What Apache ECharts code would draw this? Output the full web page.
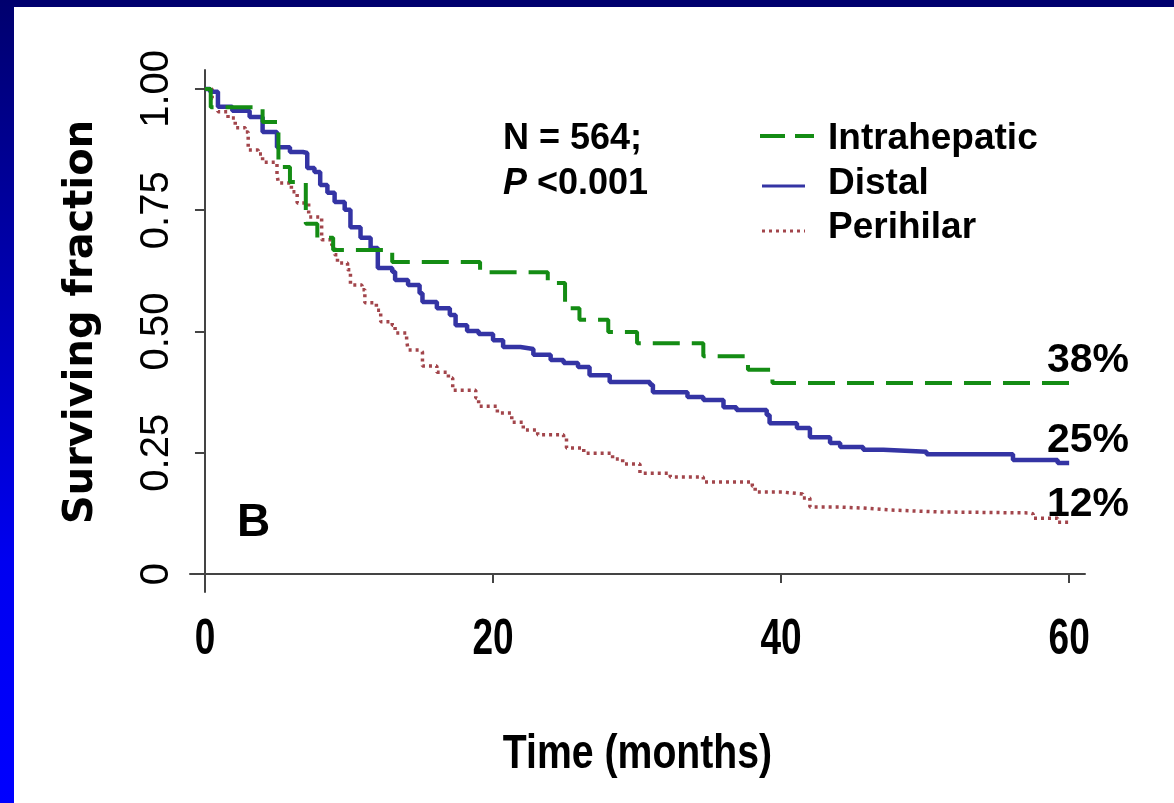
<!DOCTYPE html>
<html>
<head>
<meta charset="utf-8">
<script src="https://cdn.jsdelivr.net/npm/echarts@6.0.0/dist/echarts.min.js"></script>
<style>
  html, body { margin: 0; padding: 0; background: #fff; }
  #main { width: 1174px; height: 803px; }
</style>
</head>
<body>
<div id="main"></div>
<script>
// Kaplan-Meier curves (months, surviving fraction)
var intraTime = [0, 0.4, 4.0, 5.1, 5.9, 7.0, 7.8, 8.9, 13.0, 19.1, 23.8, 25.0, 26.0, 28.0, 30.0, 34.6, 37.7, 39.4, 60];
var intraSurv = [1, 0.962, 0.932, 0.839, 0.808, 0.722, 0.693, 0.668, 0.643, 0.622, 0.600, 0.548, 0.524, 0.499, 0.476, 0.449, 0.421, 0.394, 0.394];

var distalTime = [0, 0.35, 0.9, 1.9, 3.1, 4.0, 5.0, 5.9, 6.8, 7.1, 7.6, 8.0, 8.5, 9.0, 9.7, 10.1, 10.8, 11.5, 12.0, 13.0, 13.2, 14.1, 14.9, 15.1, 16.1, 17.0, 17.4, 18.2, 19.0, 20.0, 20.7, 21.9, 22.8, 24.0, 24.9, 25.9, 26.7, 28.1, 30.9, 31.1, 33.5, 34.6, 36.0, 36.9, 39.0, 39.2, 41.1, 42.0, 43.4, 44.1, 45.7, 47.1, 50.1, 56.1, 59.2, 60];
var distalSurv = [1, 0.994, 0.963, 0.955, 0.942, 0.911, 0.880, 0.870, 0.868, 0.837, 0.829, 0.802, 0.786, 0.767, 0.751, 0.715, 0.693, 0.672, 0.631, 0.623, 0.606, 0.596, 0.579, 0.561, 0.548, 0.534, 0.513, 0.501, 0.495, 0.482, 0.468, 0.464, 0.452, 0.441, 0.435, 0.427, 0.410, 0.396, 0.390, 0.375, 0.365, 0.359, 0.344, 0.338, 0.328, 0.311, 0.301, 0.282, 0.270, 0.262, 0.256, 0.252, 0.247, 0.235, 0.229, 0.229];

var periTime = [0, 0.5, 0.9, 1.6, 2.1, 2.8, 3.0, 3.7, 4.0, 5.0, 5.1, 6.0, 6.4, 7.2, 8.1, 8.8, 9.0, 9.2, 9.9, 10.1, 10.9, 11.1, 11.9, 12.2, 13.0, 13.2, 14.0, 14.1, 14.9, 15.1, 16.1, 16.9, 17.2, 18.8, 19.0, 20.3, 21.3, 22.1, 23.1, 24.9, 25.1, 26.3, 28.3, 29.0, 30.2, 32.3, 34.6, 38.0, 38.2, 40.1, 41.5, 42.0, 44.1, 45.7, 47.6, 51.0, 57.3, 57.5, 59.2, 60];
var periSurv = [1, 0.981, 0.953, 0.940, 0.920, 0.911, 0.874, 0.866, 0.849, 0.823, 0.806, 0.788, 0.765, 0.736, 0.689, 0.678, 0.658, 0.641, 0.627, 0.596, 0.586, 0.559, 0.544, 0.520, 0.513, 0.497, 0.482, 0.462, 0.458, 0.429, 0.416, 0.404, 0.379, 0.363, 0.346, 0.332, 0.313, 0.297, 0.287, 0.280, 0.260, 0.249, 0.237, 0.227, 0.208, 0.200, 0.190, 0.181, 0.169, 0.165, 0.157, 0.138, 0.136, 0.132, 0.128, 0.126, 0.124, 0.115, 0.107, 0.105];

var xTicks = [0, 20, 40, 60];
var yTicks = [0, 0.25, 0.5, 0.75, 1];

var GREEN = '#148c14';
var BLUE = '#3434a4';
var MAROON = '#a2454b';
var SANS = '"Liberation Sans", Arial, sans-serif';

function pairs(t, s) {
	var out = [];
	for (var i = 0; i < t.length; i++) out.push([t[i], s[i]]);
	return out;
}

var myChart = echarts.init(document.getElementById('main'));

myChart.setOption({
	animation: false,
	backgroundColor: '#fff',
	grid: { left: 190, right: 89, top: 70, bottom: 211 },
	xAxis: {
		type: 'value',
		min: -1.04,
		max: 61.1,
		splitLine: { show: false },
		axisLine: { lineStyle: { color: '#444', width: 2 } },
		axisTick: { customValues: xTicks, length: 9, lineStyle: { color: '#444', width: 2 } },
		axisLabel: { show: false }
	},
	yAxis: {
		type: 'value',
		min: -0.037,
		max: 1.039,
		splitLine: { show: false },
		axisLine: { show: true, lineStyle: { color: '#444', width: 2 } },
		axisTick: { show: true, customValues: yTicks, length: 10, lineStyle: { color: '#444', width: 2 } },
		axisLabel: {
			customValues: yTicks,
			rotate: 90,
			margin: 13,
			color: '#000',
			fontFamily: SANS,
			fontSize: 40,
			formatter: function (v) { return v === 0 ? '0' : v.toFixed(2); }
		},
		name: 'Surviving fraction',
		nameLocation: 'middle',
		nameRotate: 90,
		nameGap: 88,
		nameTextStyle: { color: '#000', fontFamily: '"DejaVu Sans", sans-serif', fontWeight: 'bold', fontSize: 40, padding: [0, 0, 0, 18] }
	},
	series: [{
		name: 'Perihilar',
		type: 'line',
		step: 'end',
		symbol: 'none',
		data: pairs(periTime, periSurv),
		lineStyle: { color: MAROON, width: 3.5, type: [3, 4], cap: 'butt' }
	}, {
		name: 'Distal',
		type: 'line',
		step: 'end',
		symbol: 'none',
		data: pairs(distalTime, distalSurv),
		lineStyle: { color: BLUE, width: 4.5 }
	}, {
		name: 'Intrahepatic',
		type: 'line',
		step: 'end',
		symbol: 'none',
		data: pairs(intraTime, intraSurv),
		lineStyle: { color: GREEN, width: 4, type: [27, 12], cap: 'butt' }
	}]
});

// condensed x-axis texts, placed through the axis scale
var gfx = [
	// slide frame
	{ type: 'rect', left: 0, top: 0, shape: { width: 1174, height: 7 }, style: { fill: '#00006e' } },
	{ type: 'rect', left: 0, top: 0, shape: { width: 14, height: 803 },
	  style: { fill: new echarts.graphic.LinearGradient(0, 0, 0, 1, [
		{ offset: 0, color: '#00006e' }, { offset: 0.7, color: '#0000f0' }, { offset: 1, color: '#0000ff' }]) } },
	// legend
	{ type: 'line', shape: { x1: 760, y1: 136, x2: 814, y2: 136 }, style: { stroke: GREEN, lineWidth: 4, lineDash: [25, 10] } },
	{ type: 'line', shape: { x1: 762, y1: 186, x2: 805, y2: 186 }, style: { stroke: BLUE, lineWidth: 3 } },
	{ type: 'line', shape: { x1: 762, y1: 231, x2: 805, y2: 231 }, style: { stroke: MAROON, lineWidth: 3, lineDash: [3, 4] } },
	{ type: 'text', x: 828, y: 139, style: { text: 'Intrahepatic', font: 'bold 37px ' + SANS, fill: '#000', verticalAlign: 'middle' } },
	{ type: 'text', x: 828, y: 184, style: { text: 'Distal', font: 'bold 37px ' + SANS, fill: '#000', verticalAlign: 'middle' } },
	{ type: 'text', x: 828, y: 228, style: { text: 'Perihilar', font: 'bold 37px ' + SANS, fill: '#000', verticalAlign: 'middle' } },
	// statistics
	{ type: 'text', x: 503, y: 139, style: { text: 'N = 564;', font: 'bold 36px ' + SANS, fill: '#000', verticalAlign: 'middle' } },
	{ type: 'text', x: 503, y: 184, style: { text: '{p|P} <0.001', font: 'bold 36px ' + SANS, fill: '#000', verticalAlign: 'middle',
		rich: { p: { fontStyle: 'italic', fontWeight: 'bold', fontSize: 36, fontFamily: SANS } } } },
	// panel letter
	{ type: 'text', x: 237, y: 523, style: { text: 'B', font: 'bold 46px ' + SANS, fill: '#000', verticalAlign: 'middle' } },
	// 5-year survival
	{ type: 'text', x: 1047, y: 361, style: { text: '38%', font: 'bold 41px ' + SANS, fill: '#000', verticalAlign: 'middle' } },
	{ type: 'text', x: 1047, y: 441, style: { text: '25%', font: 'bold 41px ' + SANS, fill: '#000', verticalAlign: 'middle' } },
	{ type: 'text', x: 1047, y: 505, style: { text: '12%', font: 'bold 41px ' + SANS, fill: '#000', verticalAlign: 'middle' } }
];

xTicks.forEach(function (v) {
	var px = myChart.convertToPixel({ xAxisIndex: 0 }, v);
	gfx.push({ type: 'text', x: px, y: 640, scaleX: 0.74,
		style: { text: String(v), font: 'bold 50px ' + SANS, fill: '#000', align: 'center', verticalAlign: 'middle' } });
});
var midX = (myChart.convertToPixel({ xAxisIndex: 0 }, -1.04) + myChart.convertToPixel({ xAxisIndex: 0 }, 61.1)) / 2;
gfx.push({ type: 'text', x: midX, y: 754, scaleX: 0.8,
	style: { text: 'Time (months)', font: 'bold 49px ' + SANS, fill: '#000', align: 'center', verticalAlign: 'middle' } });

myChart.setOption({ graphic: gfx });
</script>
</body>
</html>
